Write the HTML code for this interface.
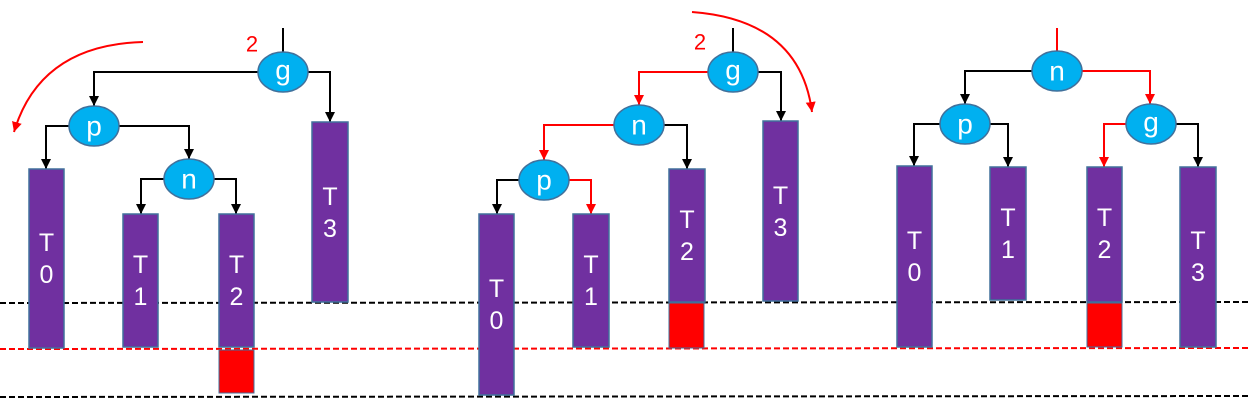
<!DOCTYPE html>
<html><head><meta charset="utf-8"><style>
html,body{margin:0;padding:0;background:#fff;}
svg{display:block;font-family:"Liberation Sans",sans-serif;}
.bar{fill:#7030A0;stroke:#41719C;stroke-width:1.5}
.node{fill:#00B0F0;stroke:#41719C;stroke-width:1.5}
.nt{fill:#fff;font-size:28px;text-anchor:middle;dominant-baseline:central}
.bt{fill:#fff;font-size:25px;text-anchor:middle;dominant-baseline:central}
.e{fill:none;stroke:#000;stroke-width:2}
.er{fill:none;stroke:#f00;stroke-width:2}
</style></head><body>
<svg width="1250" height="412" viewBox="0 0 1250 412">
<defs>
<marker id="ab" markerUnits="userSpaceOnUse" markerWidth="10" markerHeight="10" refX="10" refY="5" orient="auto" viewBox="0 0 10 10"><path d="M0,0 L10,5 L0,10Z" fill="#000"/></marker>
<marker id="ar" markerUnits="userSpaceOnUse" markerWidth="10" markerHeight="10" refX="10" refY="5" orient="auto" viewBox="0 0 10 10"><path d="M0,0 L10,5 L0,10Z" fill="#f00"/></marker>
</defs>
<g>
<line x1="0" y1="303" x2="1250" y2="302" stroke="#000" stroke-width="2" stroke-dasharray="6,3"/>
<line x1="0" y1="349" x2="1250" y2="348" stroke="#f00" stroke-width="2" stroke-dasharray="6,3"/>
<line x1="0" y1="397" x2="1250" y2="396" stroke="#000" stroke-width="2" stroke-dasharray="6,3"/>
</g>

<!-- Panel 1 -->
<g>
<path d="M143,42 Q40,45 14,132" class="er" marker-end="url(#ar)"/>
<text x="252" y="44" fill="#f00" font-size="22" text-anchor="middle" dominant-baseline="central">2</text>
<line x1="283" y1="28" x2="283" y2="52" stroke="#000" stroke-width="2"/>
<path d="M258,72 H94 V106" class="e" marker-end="url(#ab)"/>
<path d="M308,72 H330 V122" class="e" marker-end="url(#ab)"/>
<path d="M69,126 H46 V169" class="e" marker-end="url(#ab)"/>
<path d="M119,126 H189 V159" class="e" marker-end="url(#ab)"/>
<path d="M164,179 H141 V214" class="e" marker-end="url(#ab)"/>
<path d="M214,179 H236 V214" class="e" marker-end="url(#ab)"/>
<rect x="29" y="169" width="35" height="179" class="bar"/>
<text x="46.5" y="243" class="bt">T</text><text x="46.5" y="275" class="bt">0</text>
<rect x="123" y="214" width="35" height="133" class="bar"/>
<text x="140.5" y="265" class="bt">T</text><text x="140.5" y="297" class="bt">1</text>
<rect x="219" y="214" width="35" height="133" class="bar"/>
<text x="236.5" y="265" class="bt">T</text><text x="236.5" y="297" class="bt">2</text>
<rect x="219" y="350" width="35" height="43" fill="#f00" stroke="#41719C"/>
<rect x="312" y="122" width="36" height="180" class="bar"/>
<text x="330" y="197" class="bt">T</text><text x="330" y="229" class="bt">3</text>
<ellipse cx="283" cy="72" rx="25" ry="20" class="node"/><text x="283" y="70" class="nt">g</text>
<ellipse cx="94" cy="126" rx="25" ry="20" class="node"/><text x="94" y="126" class="nt">p</text>
<ellipse cx="189" cy="179" rx="25" ry="20" class="node"/><text x="189" y="179" class="nt">n</text>
</g>

<!-- Panel 2 -->
<g>
<path d="M692,12 Q800,20 812,112" class="er" marker-end="url(#ar)"/>
<text x="700" y="42" fill="#f00" font-size="22" text-anchor="middle" dominant-baseline="central">2</text>
<line x1="733" y1="28" x2="733" y2="52" stroke="#000" stroke-width="2"/>
<path d="M708,72 H639 V105" class="er" marker-end="url(#ar)"/>
<path d="M758,72 H781 V121" class="e" marker-end="url(#ab)"/>
<path d="M614,125 H544 V160" class="er" marker-end="url(#ar)"/>
<path d="M664,125 H687 V169" class="e" marker-end="url(#ab)"/>
<path d="M519,180 H497 V214" class="e" marker-end="url(#ab)"/>
<path d="M569,180 H591 V214" class="er" marker-end="url(#ar)"/>
<rect x="479" y="214" width="35" height="181" class="bar"/>
<text x="496.5" y="289" class="bt">T</text><text x="496.5" y="321" class="bt">0</text>
<rect x="573" y="214" width="36" height="133" class="bar"/>
<text x="591" y="265" class="bt">T</text><text x="591" y="297" class="bt">1</text>
<rect x="669" y="169" width="36" height="133" class="bar"/>
<text x="687" y="220" class="bt">T</text><text x="687" y="252" class="bt">2</text>
<rect x="669" y="303" width="35" height="45" fill="#f00" stroke="#41719C"/>
<rect x="763" y="121" width="35" height="180" class="bar"/>
<text x="780.5" y="196" class="bt">T</text><text x="780.5" y="228" class="bt">3</text>
<ellipse cx="733" cy="72" rx="25" ry="20" class="node"/><text x="733" y="70" class="nt">g</text>
<ellipse cx="639" cy="125" rx="25" ry="20" class="node"/><text x="639" y="125" class="nt">n</text>
<ellipse cx="544" cy="180" rx="25" ry="20" class="node"/><text x="544" y="180" class="nt">p</text>
</g>

<!-- Panel 3 -->
<g>
<line x1="1057" y1="28" x2="1057" y2="51" stroke="#f00" stroke-width="2"/>
<path d="M1032,71 H965 V104" class="e" marker-end="url(#ab)"/>
<path d="M1082,71 H1150 V104" class="er" marker-end="url(#ar)"/>
<path d="M940,124 H914 V166" class="e" marker-end="url(#ab)"/>
<path d="M990,124 H1008 V167" class="e" marker-end="url(#ab)"/>
<path d="M1126,124 H1104 V167" class="er" marker-end="url(#ar)"/>
<path d="M1176,124 H1198 V167" class="e" marker-end="url(#ab)"/>
<rect x="897" y="166" width="35" height="181" class="bar"/>
<text x="914.5" y="241" class="bt">T</text><text x="914.5" y="273" class="bt">0</text>
<rect x="990" y="167" width="36" height="133" class="bar"/>
<text x="1008" y="218" class="bt">T</text><text x="1008" y="250" class="bt">1</text>
<rect x="1087" y="167" width="35" height="135" class="bar"/>
<text x="1104.5" y="218" class="bt">T</text><text x="1104.5" y="250" class="bt">2</text>
<rect x="1087" y="303" width="35" height="44" fill="#f00" stroke="#41719C"/>
<rect x="1180" y="167" width="36" height="180" class="bar"/>
<text x="1198" y="241" class="bt">T</text><text x="1198" y="273" class="bt">3</text>
<ellipse cx="1057" cy="71" rx="25" ry="20" class="node"/><text x="1057" y="71" class="nt">n</text>
<ellipse cx="965" cy="124" rx="25" ry="20" class="node"/><text x="965" y="124" class="nt">p</text>
<ellipse cx="1151" cy="124" rx="25" ry="20" class="node"/><text x="1151" y="122" class="nt">g</text>
</g>
</svg>
</body></html>
